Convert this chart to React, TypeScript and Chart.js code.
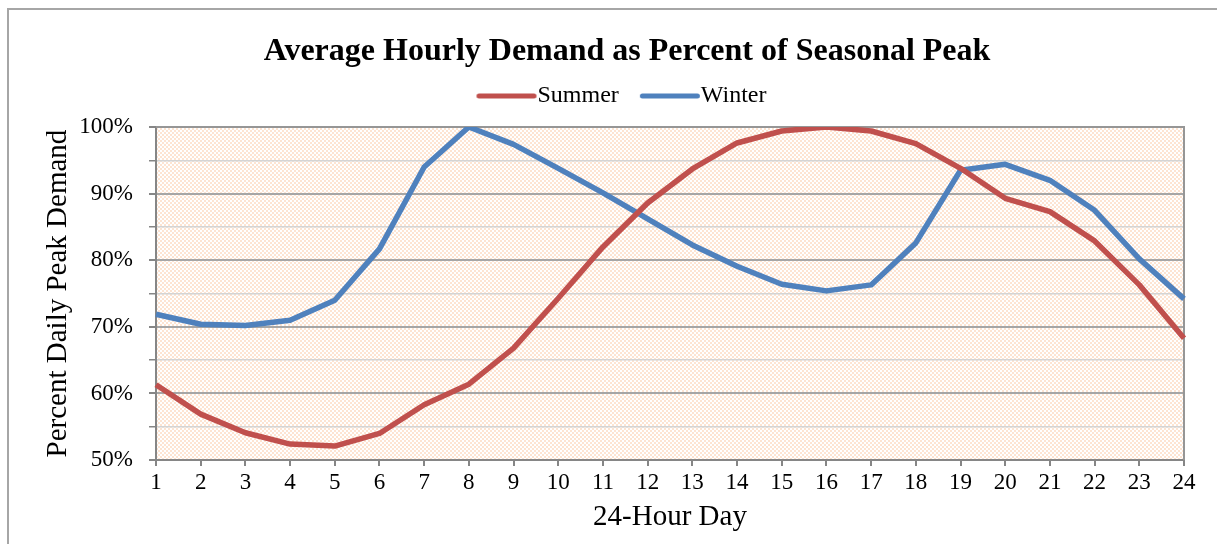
import React, { useEffect, useRef } from 'react';
import { Chart, registerables } from 'chart.js';

Chart.register(...registerables);

const FONT = '"Liberation Serif", "Times New Roman", serif';

const hours = ['1', '2', '3', '4', '5', '6', '7', '8', '9', '10', '11', '12', '13', '14', '15', '16', '17', '18', '19', '20', '21', '22', '23', '24'];
const summerValues = [61.3, 56.9, 54.1, 52.4, 52.1, 54.0, 58.3, 61.4, 66.8, 74.3, 82.0, 88.6, 93.7, 97.6, 99.4, 100, 99.4, 97.5, 93.8, 89.3, 87.3, 82.9, 76.3, 68.3];
const winterValues = [71.9, 70.4, 70.2, 71.0, 74.0, 81.7, 94.0, 100, 97.4, 93.8, 90.1, 86.2, 82.3, 79.1, 76.4, 75.4, 76.3, 82.6, 93.5, 94.4, 92.0, 87.5, 80.2, 74.2];
const seriesNames = ['Summer', 'Winter'];
const seriesColors = ['#c0504d', '#4f81bd'];
const chartTitle = 'Average Hourly Demand as Percent of Seasonal Peak';
const xTitle = '24-Hour Day';
const yTitle = 'Percent Daily Peak Demand';
const yMin = 50;
const yMax = 100;
const yStep = 5;

function legendLine(color: string) {
  const c = document.createElement('canvas');
  c.width = 62;
  c.height = 8;
  const g = c.getContext('2d') as CanvasRenderingContext2D;
  g.strokeStyle = color;
  g.lineWidth = 5;
  g.lineCap = 'round';
  g.beginPath();
  g.moveTo(3.5, 4);
  g.lineTo(58.5, 4);
  g.stroke();
  return c;
}

const decorPlugin = {
  id: 'decor',
  beforeDraw(chart: any) {
    const { ctx, chartArea: a } = chart;
    ctx.save();
    ctx.strokeStyle = '#a6a6a6';
    ctx.lineWidth = 2;
    ctx.beginPath();
    ctx.moveTo(8, 544);
    ctx.lineTo(8, 9);
    ctx.lineTo(1217, 9);
    ctx.stroke();
    const p = document.createElement('canvas');
    p.width = 4;
    p.height = 4;
    const pc = p.getContext('2d') as CanvasRenderingContext2D;
    pc.fillStyle = '#ffffff';
    pc.fillRect(0, 0, 4, 4);
    pc.fillStyle = '#fde4d2';
    pc.fillRect(0, 0, 2, 2);
    pc.fillRect(2, 2, 2, 2);
    const pat = ctx.createPattern(p, 'repeat');
    if (pat) ctx.fillStyle = pat;
    ctx.fillRect(a.left, a.top, a.right - a.left, a.bottom - a.top);
    ctx.restore();
  },
  beforeDatasetsDraw(chart: any) {
    const { ctx, chartArea: a } = chart;
    ctx.save();
    ctx.strokeStyle = '#969696';
    ctx.lineWidth = 2;
    ctx.beginPath();
    ctx.moveTo(a.left, a.top);
    ctx.lineTo(a.right, a.top);
    ctx.lineTo(a.right, a.bottom);
    ctx.stroke();
    ctx.restore();
  },
};

export default function App() {
  const ref = useRef<HTMLCanvasElement>(null);
  useEffect(() => {
    if (!ref.current) return;
    const values = [summerValues, winterValues];
    const chart = new Chart(ref.current, {
      type: 'line',
      data: {
        labels: hours,
        datasets: seriesNames.map((name, i) => ({
          label: name,
          data: values[i],
          borderColor: seriesColors[i],
          backgroundColor: seriesColors[i],
          borderWidth: 5.5,
          pointRadius: 0,
          pointHoverRadius: 0,
          pointStyle: legendLine(seriesColors[i]),
          tension: 0,
          borderJoinStyle: 'round',
          borderCapStyle: 'butt',
        })),
      },
      options: {
        responsive: false,
        animation: false,
        layout: { padding: { left: 70, right: 33, top: 0, bottom: 0 } },
        plugins: {
          title: {
            display: true,
            text: chartTitle,
            color: '#000',
            font: { family: FONT, size: 32, weight: 'bold', lineHeight: 1.2 },
            padding: { top: 33, bottom: -19.4 },
          },
          subtitle: {
            display: true,
            text: '',
            weight: 500,
            padding: 0,
            font: { family: FONT, size: 9, lineHeight: 1 },
          },
          legend: {
            display: true,
            position: 'top',
            labels: {
              usePointStyle: true,
              pointStyleWidth: 38,
              padding: 32,
              color: '#000',
              font: { family: FONT, size: 24 },
            },
          },
          tooltip: { enabled: false },
        },
        scales: {
          x: {
            type: 'category',
            offset: false,
            grid: { drawOnChartArea: false, drawTicks: true, tickLength: 6, color: '#868686', lineWidth: 2 },
            border: { color: '#868686', width: 2 },
            ticks: { color: '#000', font: { family: FONT, size: 23 }, padding: 3, maxRotation: 0, autoSkip: false },
            title: {
              display: true,
              text: xTitle,
              color: '#000',
              font: { family: FONT, size: 29 },
              padding: { top: 0, bottom: 9.5 },
            },
          },
          y: {
            min: yMin,
            max: yMax,
            afterFit: (s: any) => {
              s.width = 86;
            },
            grid: {
              color: (c: any) => (c.tick && c.tick.value % 10 === 0 ? '#a6a6a6' : '#d4d4d4'),
              lineWidth: (c: any) => (c.tick && c.tick.value % 10 === 0 ? 2 : 1.5),
              tickLength: 7,
              tickColor: '#868686',
            },
            border: { color: '#868686', width: 2 },
            ticks: {
              stepSize: yStep,
              color: '#000',
              padding: 16,
              font: { family: FONT, size: 23 },
              callback: (v: any) => (Number(v) % 10 === 0 ? `${v}%` : ''),
            },
            title: {
              display: true,
              text: yTitle,
              color: '#000',
              font: { family: FONT, size: 29 },
              padding: { top: -29.4, bottom: 0 },
            },
          },
        },
      } as any,
      plugins: [decorPlugin],
    });
    return () => chart.destroy();
  }, []);
  return (
    <div style={{ position: 'fixed', left: 0, top: 0, width: 1217, height: 544, background: '#fff' }}>
      <canvas ref={ref} width={1217} height={544} style={{ display: 'block', width: 1217, height: 544 }} />
    </div>
  );
}
